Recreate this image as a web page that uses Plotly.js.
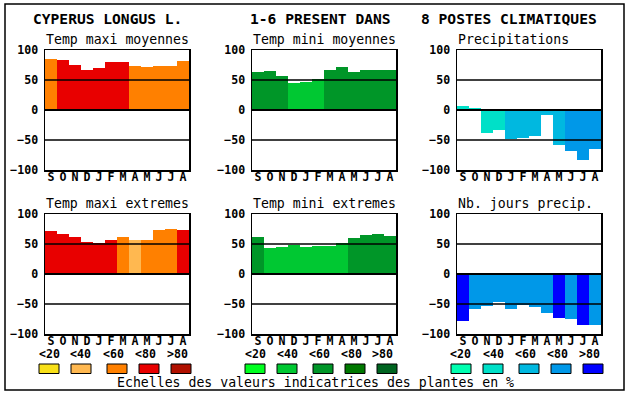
<!DOCTYPE html>
<html><head><meta charset="utf-8">
<script src="https://cdn.plot.ly/plotly-3.0.1.min.js"></script>
<style>html,body{margin:0;padding:0;background:#fff}#chart{width:630px;height:394px}</style>
</head><body><div id="chart"></div>
<script>
const months = ['S','O','N','D','J','F','M','A','M','J','J','A'];
const classLabels = ['<20','<40','<60','<80','>80'];
const tickValsY = [-100,-50,0,50,100];

const tmaxMoy = [85,83,75,67,70,80,80,73,72,73,73,82];
const tmaxMoyCls = [2,3,3,3,3,3,3,2,2,2,2,2];
const tminMoy = [63,65,57,45,47,52,67,72,63,67,67,67];
const tminMoyCls = [2,2,2,1,1,1,2,2,2,2,2,2];
const precip = [7,4,-38,-33,-48,-47,-43,-8,-58,-68,-83,-65];
const precipCls = [1,1,1,1,2,2,2,2,2,3,3,3];
const tmaxExt = [72,67,62,54,52,56,62,56,57,74,75.5,74];
const tmaxExtCls = [3,3,3,3,3,3,2,1,2,2,2,3];
const tminExt = [62,44,45.5,49,45.5,47,47,52,60.5,65.5,67,64];
const tminExtCls = [2,1,1,1,1,1,1,1,2,2,2,2];
const nbJours = [-78,-58,-53,-46,-58,-51,-54.5,-64.5,-73,-74.5,-84.5,-84.5];
const nbJoursCls = [4,3,3,3,3,3,3,3,4,3,4,3];

const palMax = ['#f8e018','#ffb850','#ff8000','#e80000','#b01000'];
const palMin = ['#00ff20','#00c832','#009628','#007800','#006420'];
const palPrec = ['#00ffb0','#00e0c8','#00b8e0','#0098e8','#0000ff'];

const W=630,H=394;
const px=x=>x/W, py=y=>1-y/H;
const MONO='DejaVu Sans Mono';

const panels = [
  {vals:tmaxMoy, cls:tmaxMoyCls, pal:palMax, title:'Temp maxi moyennes', x0:45, y0:50},
  {vals:tminMoy, cls:tminMoyCls, pal:palMin, title:'Temp mini moyennes', x0:252, y0:50},
  {vals:precip, cls:precipCls, pal:palPrec, title:'Precipitations', x0:457, y0:50},
  {vals:tmaxExt, cls:tmaxExtCls, pal:palMax, title:'Temp maxi extremes', x0:45, y0:214},
  {vals:tminExt, cls:tminExtCls, pal:palMin, title:'Temp mini extremes', x0:252, y0:214},
  {vals:nbJours, cls:nbJoursCls, pal:palPrec, title:'Nb. jours precip.', x0:457, y0:214},
];
const PW=144, PH=120;

const data=[], shapes=[], annotations=[];
const layout = {
  width:W, height:H, margin:{l:0,r:0,t:0,b:0},
  paper_bgcolor:'#fff', plot_bgcolor:'#fff',
  showlegend:false, bargap:0,
  font:{family:MONO, color:'#000'},
};
const idx = months.map((m,i)=>i);
const tickFont = {family:MONO, size:11.6, weight:'bold', color:'#000'};
panels.forEach((p,k)=>{
  const n = k+1;
  const xa = 'x'+(n===1?'':n), ya='y'+(n===1?'':n);
  const xk = 'xaxis'+(n===1?'':n), yk='yaxis'+(n===1?'':n);
  data.push({type:'bar', x:idx, y:p.vals, xaxis:xa, yaxis:ya,
    marker:{color:p.cls.map(c=>p.pal[c]), line:{width:0}}, width:1,
    hoverinfo:'none'});
  layout[xk] = {domain:[px(p.x0), px(p.x0+PW)], anchor:ya, range:[-0.5,11.5],
    tickvals:idx, ticktext:months, ticks:'', showgrid:false, zeroline:false,
    showline:true, mirror:true, linecolor:'#000', linewidth:1.5, layer:'above traces',
    ticklabelstandoff:-4,
    tickfont:tickFont, fixedrange:true};
  layout[yk] = {domain:[py(p.y0+PH), py(p.y0)], anchor:xa, range:[-100,100],
    tickvals:tickValsY, ticks:'', showgrid:false, zeroline:false,
    showline:true, mirror:true, linecolor:'#000', linewidth:1.5, layer:'above traces',
    ticklabelstandoff:3,
    tickfont:tickFont, fixedrange:true};
  [50,0,-50].forEach(v=>{
    shapes.push({type:'line', xref:xa+' domain', yref:ya, x0:0, x1:1, y0:v, y1:v,
      line:{color:'#000', width: v===0?2:1.5}, layer:'above'});
  });
  annotations.push({text:p.title, xref:'paper', yref:'paper', x:px(p.x0-1), y:py(p.y0-11),
    xanchor:'left', yanchor:'middle', showarrow:false, font:{family:MONO, size:13.2, color:'#000'}});
});

// main titles
[['CYPERUS LONGUS L.',31],['1-6 PRESENT DANS',248],['8 POSTES CLIMATIQUES',419]].forEach(t=>{
  annotations.push({text:t[0], xref:'paper', yref:'paper', x:px(t[1]), y:py(18),
    xanchor:'left', yanchor:'middle', showarrow:false, font:{family:MONO, size:14.6, weight:'bold', color:'#000'}});
});

// legend scales
const legendGroups = [
  {pal:palMax, boxes:[39,71,107,139,171]},
  {pal:palMin, boxes:[245,277,313,345,377]},
  {pal:palPrec, boxes:[451,483,519,551,583]},
];
legendGroups.forEach(g=>{
  g.boxes.forEach((bx,i)=>{
    shapes.push({type:'rect', xref:'paper', yref:'paper', x0:px(bx), x1:px(bx+20), y0:py(373.5), y1:py(364),
      fillcolor:g.pal[i], line:{color:'#000', width:1}});
  });
});
annotations.push({text:'Echelles des valeurs indicatrices des plantes en %', xref:'paper', yref:'paper',
  x:px(315), y:py(382.5), xanchor:'center', yanchor:'middle', showarrow:false,
  font:{family:MONO, size:13.2, color:'#000'}});

// outer frame
shapes.push({type:'rect', xref:'paper', yref:'paper', x0:px(5), x1:px(624), y0:py(390), y1:py(4),
  line:{color:'#000', width:1.5}, fillcolor:'rgba(0,0,0,0)'});

layout.shapes = shapes;
layout.annotations = annotations;

// class labels under each bottom panel
const labelCenters = [[49,81,113,145,177],[255,287,319,351,383],[461,493,525,557,589]];
labelCenters.forEach(cs=>{
  cs.forEach((cx,i)=>{
    layout.annotations.push({text:classLabels[i].replace('<','&lt;').replace('>','&gt;'), xref:'paper', yref:'paper',
      x:px(cx), y:py(354), xanchor:'center', yanchor:'middle', showarrow:false,
      font:{family:MONO, size:11.6, weight:'bold', color:'#000'}});
  });
});

Plotly.newPlot('chart', data, layout, {staticPlot:true, displayModeBar:false});
</script></body></html>
